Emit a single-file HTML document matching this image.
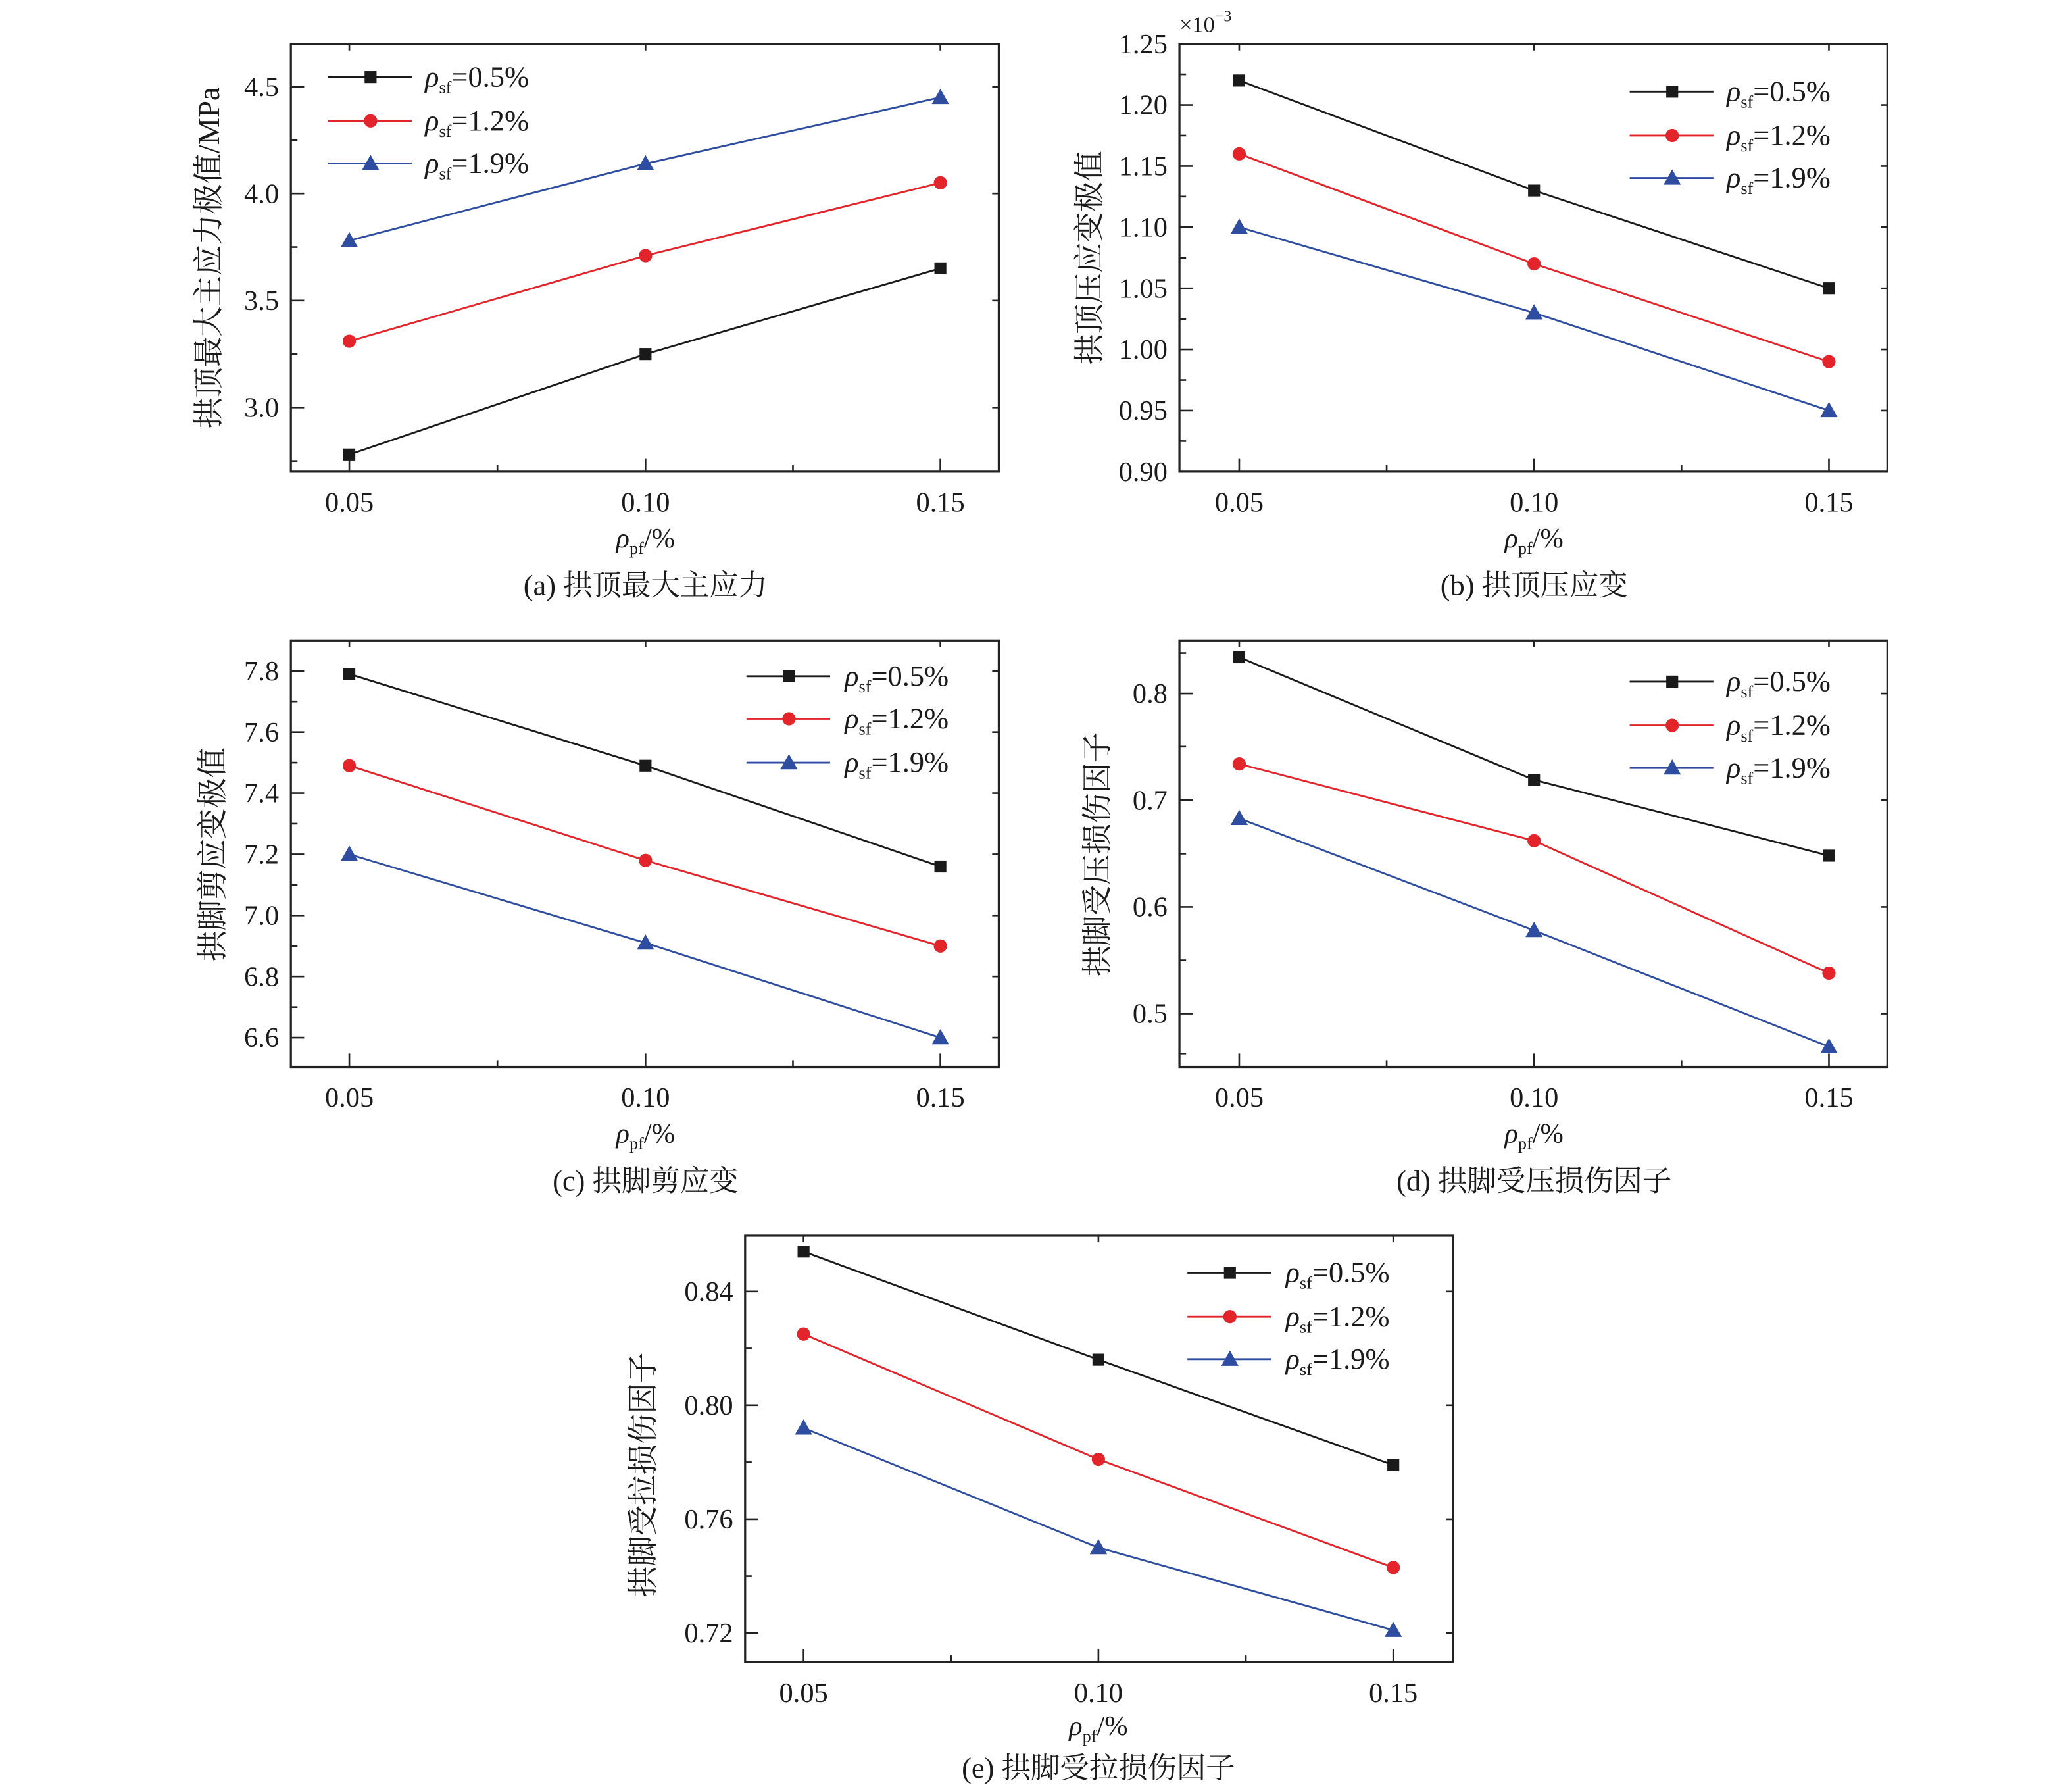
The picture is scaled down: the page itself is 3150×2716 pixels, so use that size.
<!DOCTYPE html>
<html><head><meta charset="utf-8"><style>html,body{margin:0;padding:0;background:#fff}svg{display:block}</style></head><body>
<svg width="3150" height="2716" viewBox="0 0 1560 1345" preserveAspectRatio="none" xmlns="http://www.w3.org/2000/svg" font-family="Liberation Serif, Noto Serif CJK SC, serif">
<defs>
<g id="sq"><rect x="-4.5" y="-4.5" width="9" height="9"/></g>
<g id="ci"><circle r="5"/></g>
<g id="tr"><polygon points="0,-6.5 6.5,5 -6.5,5"/></g>
</defs>
<rect width="1560" height="1345" fill="#fff"/>
<g fill="none" stroke="#222" stroke-width="1.6">
<rect x="219" y="33" width="533" height="322"/>
<rect x="888" y="33" width="533" height="322"/>
<rect x="219" y="482" width="533" height="321"/>
<rect x="888" y="482" width="533" height="321"/>
<rect x="561" y="930" width="533" height="321"/>
</g>
<g stroke="#222" stroke-width="1.3">
<path d="M263,355v-10M486,355v-10M708,355v-10M374.5,355v-5M597,355v-5M263,33v5M486,33v5M708,33v5M219,306.7h10M219,226.2h10M219,145.7h10M219,65.2h10M219,347h5M219,266.5h5M219,186h5M219,105.5h5M752,306.7h-5M752,226.2h-5M752,145.7h-5M752,65.2h-5"/>
<path d="M933,355v-10M1155,355v-10M1377,355v-10M1044,355v-5M1266,355v-5M933,33v5M1155,33v5M1377,33v5M888,309h10M888,263h10M888,217h10M888,171h10M888,125h10M888,79h10M888,332h5M888,286h5M888,240h5M888,194h5M888,148h5M888,102h5M888,56h5M1421,309h-5M1421,263h-5M1421,217h-5M1421,171h-5M1421,125h-5M1421,79h-5"/>
<path d="M263,803v-10M486,803v-10M708,803v-10M374.5,803v-5M597,803v-5M263,482v5M486,482v5M708,482v5M219,505h10M219,551h10M219,597h10M219,643h10M219,689h10M219,735h10M219,781h10M219,528h5M219,574h5M219,620h5M219,666h5M219,712h5M219,758h5M752,505h-5M752,551h-5M752,597h-5M752,643h-5M752,689h-5M752,735h-5M752,781h-5"/>
<path d="M933,803v-10M1155,803v-10M1377,803v-10M1044,803v-5M1266,803v-5M933,482v5M1155,482v5M1377,482v5M888,522h10M888,602.3h10M888,682.6h10M888,762.9h10M888,562h5M888,642.5h5M888,722.8h5M888,491.5h5M888,793h5M1421,522h-5M1421,602.3h-5M1421,682.6h-5M1421,762.9h-5"/>
<path d="M605,1251v-10M827,1251v-10M1049,1251v-10M716,1251v-5M938,1251v-5M605,930v5M827,930v5M1049,930v5M561,972h10M561,1057.7h10M561,1143.4h10M561,1229.1h10M561,1014.9h5M561,1100.6h5M561,1186.3h5M1094,972h-5M1094,1057.7h-5M1094,1143.4h-5M1094,1229.1h-5"/>
</g>
<g fill="none" stroke-width="1.4">
<polyline stroke="#1a1a1a" points="263,342.1 486,266.5 708,202"/>
<polyline stroke="#e3242b" points="263,256.8 486,192.4 708,137.6"/>
<polyline stroke="#2e4da0" points="263,181.1 486,123.2 708,73.3"/>
<polyline stroke="#1a1a1a" points="933,60.6 1155,143.4 1377,217"/>
<polyline stroke="#e3242b" points="933,115.8 1155,198.6 1377,272.2"/>
<polyline stroke="#2e4da0" points="933,171 1155,235.4 1377,309"/>
<polyline stroke="#1a1a1a" points="263,507.3 486,576.3 708,652.2"/>
<polyline stroke="#e3242b" points="263,576.3 486,647.6 708,712"/>
<polyline stroke="#2e4da0" points="263,643 486,709.7 708,781"/>
<polyline stroke="#1a1a1a" points="933,494.7 1155,587 1377,644"/>
<polyline stroke="#e3242b" points="933,575 1155,632.8 1377,732.4"/>
<polyline stroke="#2e4da0" points="933,616 1155,700.3 1377,787.8"/>
<polyline stroke="#1a1a1a" points="605,942 827,1023.4 1049,1102.7"/>
<polyline stroke="#e3242b" points="605,1004.1 827,1098.4 1049,1179.8"/>
<polyline stroke="#2e4da0" points="605,1074.8 827,1164.8 1049,1227"/>
<path stroke="#1a1a1a" d="M247,58h63M1227,69h63M562,509h63M1227,513h63M894,958h63"/>
<path stroke="#e3242b" d="M247,91h63M1227,102h63M562,541h63M1227,546h63M894,991h63"/>
<path stroke="#2e4da0" d="M247,123h63M1227,134h63M562,574h63M1227,578h63M894,1023h63"/>
</g>
<g fill="#1a1a1a">
<use href="#sq" x="263" y="342.1"/><use href="#sq" x="486" y="266.5"/><use href="#sq" x="708" y="202"/>
<use href="#sq" x="933" y="60.6"/><use href="#sq" x="1155" y="143.4"/><use href="#sq" x="1377" y="217"/>
<use href="#sq" x="263" y="507.3"/><use href="#sq" x="486" y="576.3"/><use href="#sq" x="708" y="652.2"/>
<use href="#sq" x="933" y="494.7"/><use href="#sq" x="1155" y="587"/><use href="#sq" x="1377" y="644"/>
<use href="#sq" x="605" y="942"/><use href="#sq" x="827" y="1023.4"/><use href="#sq" x="1049" y="1102.7"/>
<use href="#sq" x="279" y="58"/><use href="#sq" x="1259" y="69"/><use href="#sq" x="594" y="509"/><use href="#sq" x="1259" y="513"/><use href="#sq" x="926" y="958"/>
</g>
<g fill="#e3242b">
<use href="#ci" x="263" y="256.8"/><use href="#ci" x="486" y="192.4"/><use href="#ci" x="708" y="137.6"/>
<use href="#ci" x="933" y="115.8"/><use href="#ci" x="1155" y="198.6"/><use href="#ci" x="1377" y="272.2"/>
<use href="#ci" x="263" y="576.3"/><use href="#ci" x="486" y="647.6"/><use href="#ci" x="708" y="712"/>
<use href="#ci" x="933" y="575"/><use href="#ci" x="1155" y="632.8"/><use href="#ci" x="1377" y="732.4"/>
<use href="#ci" x="605" y="1004.1"/><use href="#ci" x="827" y="1098.4"/><use href="#ci" x="1049" y="1179.8"/>
<use href="#ci" x="279" y="91"/><use href="#ci" x="1259" y="102"/><use href="#ci" x="594" y="541"/><use href="#ci" x="1259" y="546"/><use href="#ci" x="926" y="991"/>
</g>
<g fill="#2e4da0">
<use href="#tr" x="263" y="181.1"/><use href="#tr" x="486" y="123.2"/><use href="#tr" x="708" y="73.3"/>
<use href="#tr" x="933" y="171"/><use href="#tr" x="1155" y="235.4"/><use href="#tr" x="1377" y="309"/>
<use href="#tr" x="263" y="643"/><use href="#tr" x="486" y="709.7"/><use href="#tr" x="708" y="781"/>
<use href="#tr" x="933" y="616"/><use href="#tr" x="1155" y="700.3"/><use href="#tr" x="1377" y="787.8"/>
<use href="#tr" x="605" y="1074.8"/><use href="#tr" x="827" y="1164.8"/><use href="#tr" x="1049" y="1227"/>
<use href="#tr" x="279" y="123"/><use href="#tr" x="1259" y="134"/><use href="#tr" x="594" y="574"/><use href="#tr" x="1259" y="578"/><use href="#tr" x="926" y="1023"/>
</g>
<g font-size="21" fill="#1a1a1a" text-anchor="end">
<text x="210" y="313.7">3.0</text><text x="210" y="233.2">3.5</text><text x="210" y="152.7">4.0</text><text x="210" y="72.2">4.5</text>
<text x="879" y="362">0.90</text><text x="879" y="316">0.95</text><text x="879" y="270">1.00</text><text x="879" y="224">1.05</text><text x="879" y="178">1.10</text><text x="879" y="132">1.15</text><text x="879" y="86">1.20</text><text x="879" y="40">1.25</text>
<text x="210" y="512">7.8</text><text x="210" y="558">7.6</text><text x="210" y="604">7.4</text><text x="210" y="650">7.2</text><text x="210" y="696">7.0</text><text x="210" y="742">6.8</text><text x="210" y="788">6.6</text>
<text x="879" y="529">0.8</text><text x="879" y="609.3">0.7</text><text x="879" y="689.6">0.6</text><text x="879" y="769.9">0.5</text>
<text x="552" y="979">0.84</text><text x="552" y="1064.7">0.80</text><text x="552" y="1150.4">0.76</text><text x="552" y="1236.1">0.72</text>
</g>
<g font-size="21" fill="#1a1a1a" text-anchor="middle">
<text x="263" y="385">0.05</text><text x="486" y="385">0.10</text><text x="708" y="385">0.15</text>
<text x="933" y="385">0.05</text><text x="1155" y="385">0.10</text><text x="1377" y="385">0.15</text>
<text x="263" y="833">0.05</text><text x="486" y="833">0.10</text><text x="708" y="833">0.15</text>
<text x="933" y="833">0.05</text><text x="1155" y="833">0.10</text><text x="1377" y="833">0.15</text>
<text x="605" y="1281">0.05</text><text x="827" y="1281">0.10</text><text x="1049" y="1281">0.15</text>
</g>
<text x="888" y="24" font-size="17" fill="#1a1a1a">×10<tspan font-size="12" dy="-8">−3</tspan></text>
<g font-size="21" fill="#1a1a1a" text-anchor="middle">
<text x="486" y="412"><tspan font-style="italic">ρ</tspan><tspan font-size="13" dy="5">pf</tspan><tspan dy="-5">/%</tspan></text>
<text x="1155" y="412"><tspan font-style="italic">ρ</tspan><tspan font-size="13" dy="5">pf</tspan><tspan dy="-5">/%</tspan></text>
<text x="486" y="860"><tspan font-style="italic">ρ</tspan><tspan font-size="13" dy="5">pf</tspan><tspan dy="-5">/%</tspan></text>
<text x="1155" y="860"><tspan font-style="italic">ρ</tspan><tspan font-size="13" dy="5">pf</tspan><tspan dy="-5">/%</tspan></text>
<text x="827" y="1306"><tspan font-style="italic">ρ</tspan><tspan font-size="13" dy="5">pf</tspan><tspan dy="-5">/%</tspan></text>
</g>
<g font-size="22" fill="#1a1a1a" text-anchor="middle">
<text x="486" y="448">(a) 拱顶最大主应力</text>
<text x="1155" y="448">(b) 拱顶压应变</text>
<text x="486" y="896">(c) 拱脚剪应变</text>
<text x="1155" y="896">(d) 拱脚受压损伤因子</text>
<text x="827" y="1338">(e) 拱脚受拉损伤因子</text>
</g>
<g font-size="23" fill="#1a1a1a" text-anchor="middle">
<text transform="translate(165,194) rotate(-90)">拱顶最大主应力极值/MPa</text>
<text transform="translate(828,194) rotate(-90)">拱顶压应变极值</text>
<text transform="translate(168,643) rotate(-90)">拱脚剪应变极值</text>
<text transform="translate(834,643) rotate(-90)">拱脚受压损伤因子</text>
<text transform="translate(492,1110) rotate(-90)">拱脚受拉损伤因子</text>
</g>
<g font-size="22" fill="#1a1a1a">
<text x="320" y="65"><tspan font-style="italic">ρ</tspan><tspan font-size="13" dy="5">sf</tspan><tspan dy="-5">=0.5%</tspan></text>
<text x="320" y="98"><tspan font-style="italic">ρ</tspan><tspan font-size="13" dy="5">sf</tspan><tspan dy="-5">=1.2%</tspan></text>
<text x="320" y="130"><tspan font-style="italic">ρ</tspan><tspan font-size="13" dy="5">sf</tspan><tspan dy="-5">=1.9%</tspan></text>
<text x="1300" y="76"><tspan font-style="italic">ρ</tspan><tspan font-size="13" dy="5">sf</tspan><tspan dy="-5">=0.5%</tspan></text>
<text x="1300" y="109"><tspan font-style="italic">ρ</tspan><tspan font-size="13" dy="5">sf</tspan><tspan dy="-5">=1.2%</tspan></text>
<text x="1300" y="141"><tspan font-style="italic">ρ</tspan><tspan font-size="13" dy="5">sf</tspan><tspan dy="-5">=1.9%</tspan></text>
<text x="636" y="516"><tspan font-style="italic">ρ</tspan><tspan font-size="13" dy="5">sf</tspan><tspan dy="-5">=0.5%</tspan></text>
<text x="636" y="548"><tspan font-style="italic">ρ</tspan><tspan font-size="13" dy="5">sf</tspan><tspan dy="-5">=1.2%</tspan></text>
<text x="636" y="581"><tspan font-style="italic">ρ</tspan><tspan font-size="13" dy="5">sf</tspan><tspan dy="-5">=1.9%</tspan></text>
<text x="1300" y="520"><tspan font-style="italic">ρ</tspan><tspan font-size="13" dy="5">sf</tspan><tspan dy="-5">=0.5%</tspan></text>
<text x="1300" y="553"><tspan font-style="italic">ρ</tspan><tspan font-size="13" dy="5">sf</tspan><tspan dy="-5">=1.2%</tspan></text>
<text x="1300" y="585"><tspan font-style="italic">ρ</tspan><tspan font-size="13" dy="5">sf</tspan><tspan dy="-5">=1.9%</tspan></text>
<text x="968" y="965"><tspan font-style="italic">ρ</tspan><tspan font-size="13" dy="5">sf</tspan><tspan dy="-5">=0.5%</tspan></text>
<text x="968" y="998"><tspan font-style="italic">ρ</tspan><tspan font-size="13" dy="5">sf</tspan><tspan dy="-5">=1.2%</tspan></text>
<text x="968" y="1030"><tspan font-style="italic">ρ</tspan><tspan font-size="13" dy="5">sf</tspan><tspan dy="-5">=1.9%</tspan></text>
</g>
</svg>
</body></html>
